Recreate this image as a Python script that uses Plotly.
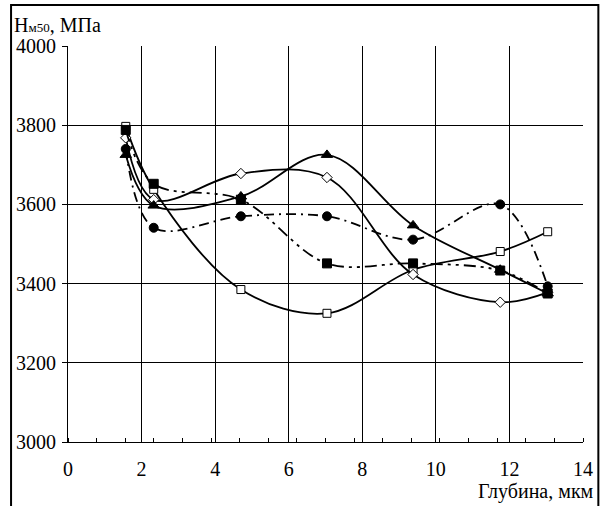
import plotly.graph_objects as go

depth = [1.57, 2.33, 4.70, 7.04, 9.38, 11.75, 13.04]
s_open_sq = [3797, 3638, 3385, 3325, 3435, 3481, 3531]
s_fill_sq = [3788, 3652, 3612, 3451, 3451, 3433, 3375]
s_diamond = [3768, 3612, 3678, 3668, 3423, 3353, 3378]
s_circle = [3740, 3541, 3570, 3570, 3511, 3600, 3393]
s_triangle = [3725, 3597, 3620, 3725, 3547, 3435, 3375]

x_ticks = [0, 2, 4, 6, 8, 10, 12, 14]
y_ticks = [3000, 3200, 3400, 3600, 3800, 4000]

FONT = "Liberation Serif"
FS = 20

fig = go.Figure()

def add(y, symbol, size, dash, fill):
    fig.add_trace(go.Scatter(
        x=depth, y=y, mode="lines+markers",
        line=dict(color="black", width=1.8, shape="spline", smoothing=1.0, dash=dash),
        marker=dict(symbol=symbol, size=size, color=fill,
                    line=dict(color="black", width=1)),
        showlegend=False, cliponaxis=False))

add(s_open_sq, "square", 8, "solid", "white")
add(s_diamond, "diamond", 8, "solid", "white")
add(s_triangle, "triangle-up", 10, "solid", "black")
add(s_circle, "circle", 9, "10px,5px,2px,5px", "black")
add(s_fill_sq, "square", 9, "12px,5px,3px,5px,3px,5px", "black")

fig.update_layout(
    width=605, height=506,
    margin=dict(l=67.5, r=17.5, t=46, b=64),
    paper_bgcolor="white", plot_bgcolor="white",
    font=dict(family=FONT, size=FS, color="black"),
    xaxis=dict(range=[0, 14], tickvals=x_ticks, ticks="", showgrid=True,
               gridcolor="black", gridwidth=1, zeroline=False,
               showline=True, linecolor="black", linewidth=1,
               mirror=False, ticklabelstandoff=9,
               tickfont=dict(family=FONT, size=FS),
               minor=dict(tick0=0, dtick=14/18, ticks="inside", ticklen=4,
                          tickcolor="black", showgrid=False)),
    yaxis=dict(range=[3000, 4000], tickvals=y_ticks, ticks="outside", ticklen=5,
               tickcolor="black", showgrid=True, gridcolor="black", gridwidth=1,
               zeroline=False, showline=True, linecolor="black", linewidth=1,
               tickfont=dict(family=FONT, size=FS),
               ticklabelstandoff=2),
    annotations=[
        dict(text="Н<span style='font-size:13px'>м50</span>, МПа", xref="paper", yref="paper",
             x=(11 - 67.5) / 520, y=(442 - 25) / 396, xanchor="left", yanchor="middle",
             showarrow=False, font=dict(family=FONT, size=FS)),
        dict(text="Глубина, мкм", xref="paper", yref="paper",
             x=(601 - 67.5) / 520, y=(442 - 491) / 396, xanchor="right", yanchor="middle",
             showarrow=False, font=dict(family=FONT, size=FS)),
    ],
    shapes=[
        dict(type="rect", xref="paper", yref="paper",
             x0=(10 - 67.5) / 520, x1=(603 - 67.5) / 520,
             y0=(442 - 520) / 396, y1=(442 - 5) / 396,
             line=dict(color="black", width=2), layer="below"),
    ],
)

fig.write_html("out.html", config={"displayModeBar": False},
               post_script="document.body.style.margin='0';document.body.style.padding='0';")
